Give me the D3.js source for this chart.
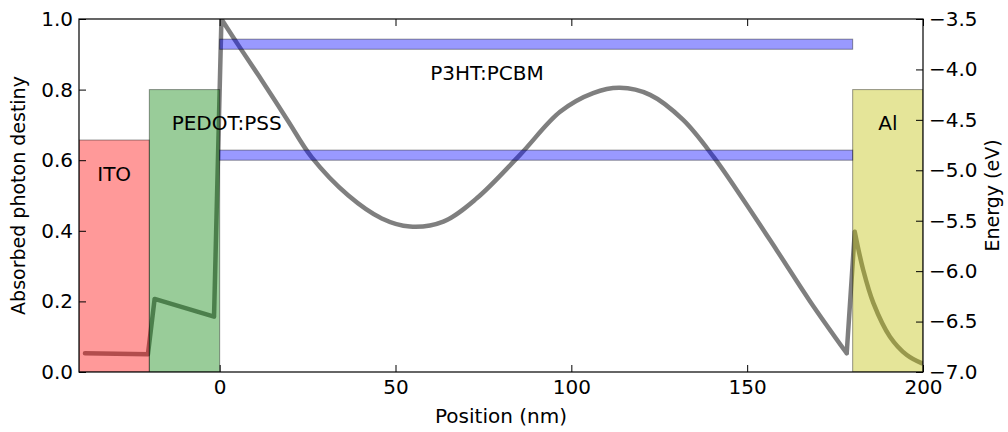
<!DOCTYPE html>
<html>
<head>
<meta charset="utf-8">
<script src="https://cdn.jsdelivr.net/npm/d3@7"></script>
<style>
  body { margin: 0; background: #fff; }
  text { font-family: "DejaVu Sans", sans-serif; fill: #000; }
  .tick line { stroke: #000; stroke-width: 1; }
  .tick text { font-size: 20px; }
</style>
</head>
<body>
<svg id="chart"></svg>
<script>
// Absorbed photon density across the device stack (position in nm)
const posX = [-38.3, -20.4, -18.5, -1.6, 0.5, 5.3, 12, 19.4, 26.2, 36.6, 46.1, 54.1,
  63.6, 73.1, 85.4, 96.8, 106.2, 113.8, 122.4, 131.8, 140.4, 148.9, 158.4, 167.9, 178.3,
  180.6, 183.0, 185.9, 190.6, 195.4, 199.6];
const density = [0.053, 0.050, 0.207, 0.157, 1.0, 0.926, 0.826, 0.712, 0.608, 0.500, 0.435, 0.412,
  0.426, 0.492, 0.615, 0.737, 0.790, 0.805, 0.785, 0.714, 0.610, 0.488, 0.345, 0.200, 0.053,
  0.397, 0.289, 0.195, 0.100, 0.048, 0.025];
// indices where the curve has a sharp corner (layer interfaces)
const corners = [0, 1, 2, 3, 4, 24, 25];

// Electrode layers: extent in nm and work function (eV)
const layerNames = ['ITO', 'PEDOT:PSS', 'Al'];
const layerStart = [-40, -20, 180];
const layerEnd = [-20, 0, 200];
const layerEnergy = [-4.7, -4.2, -4.2];
const layerColors = ['#ff0000', '#008000', '#bfbf00'];

// Active layer bands (LUMO / HOMO), eV
const activeStart = 0;
const activeEnd = 180;
const bandTop = [-3.7, -4.8];
const bandBottom = [-3.8, -4.9];

// Label anchors (nm, eV)
const labelText = ['ITO', 'PEDOT:PSS', 'P3HT:PCBM', 'Al'];
const labelX = [-30, 2, 76, 190];
const labelE = [-5.0, -4.5, -4.0, -4.5];

// Ticks
const xTicks = [0, 50, 100, 150, 200];
const leftTicks = [0, 0.2, 0.4, 0.6, 0.8, 1.0];
const rightTicks = [-3.5, -4.0, -4.5, -5.0, -5.5, -6.0, -6.5, -7.0];

const config = {
  width: 1008, height: 432,
  margin: { top: 19, right: 85, bottom: 60, left: 79 }
};
const W = config.width, H = config.height, m = config.margin;

const svg = d3.select('#chart').attr('width', W).attr('height', H);

const x = d3.scaleLinear().domain([-40, 200]).range([m.left, W - m.right]);
const yL = d3.scaleLinear().domain([0, 1]).range([H - m.bottom, m.top]);
const yR = d3.scaleLinear().domain([-7, -3.5]).range([H - m.bottom, m.top]);

svg.append('defs').append('clipPath').attr('id', 'plot-clip')
  .append('rect')
  .attr('x', m.left).attr('y', m.top)
  .attr('width', W - m.left - m.right).attr('height', H - m.top - m.bottom);

const plot = svg.append('g').attr('clip-path', 'url(#plot-clip)');

// Density curve (drawn first so the layers tint it)
// straight pieces between the corners, smooth pieces inside the layers
const pts = posX.map((d, i) => [d, density[i]]);
const straight = d3.line().x(d => x(d[0])).y(d => yL(d[1]));
const smooth = d3.line().x(d => x(d[0])).y(d => yL(d[1])).curve(d3.curveCatmullRom.alpha(0.5));
let pathD = '';
for (let i = 0; i < pts.length - 1; ) {
  if (corners.includes(i) && corners.includes(i + 1)) {
    pathD += straight(pts.slice(i, i + 2));
    i += 1;
  } else {
    let j = i + 1;
    while (j < pts.length - 1 && !corners.includes(j)) j++;
    pathD += smooth(pts.slice(i, j + 1));
    i = j;
  }
}
plot.append('path')
  .attr('d', pathD)
  .attr('fill', 'none')
  .attr('stroke', '#000')
  .attr('stroke-opacity', 0.5)
  .attr('stroke-width', 4.5)
  .attr('stroke-linejoin', 'round')
  .attr('stroke-linecap', 'round');

// Electrode boxes
plot.selectAll('.layer')
  .data(layerNames)
  .join('rect')
  .attr('class', 'layer')
  .attr('x', (d, i) => x(layerStart[i]))
  .attr('width', (d, i) => x(layerEnd[i]) - x(layerStart[i]))
  .attr('y', (d, i) => yR(layerEnergy[i]))
  .attr('height', (d, i) => yR(-7) - yR(layerEnergy[i]))
  .attr('fill', (d, i) => layerColors[i])
  .attr('fill-opacity', 0.4)
  .attr('stroke', '#000')
  .attr('stroke-opacity', 0.4)
  .attr('stroke-width', 1);

// Active layer bands
plot.selectAll('.band')
  .data(bandTop)
  .join('rect')
  .attr('class', 'band')
  .attr('x', x(activeStart))
  .attr('width', x(activeEnd) - x(activeStart))
  .attr('y', d => yR(d))
  .attr('height', (d, i) => yR(bandBottom[i]) - yR(d))
  .attr('fill', '#0000ff')
  .attr('fill-opacity', 0.4)
  .attr('stroke', '#000')
  .attr('stroke-opacity', 0.4)
  .attr('stroke-width', 1);

// Layer labels
svg.selectAll('.layer-label')
  .data(labelText)
  .join('text')
  .attr('class', 'layer-label')
  .attr('x', (d, i) => x(labelX[i]))
  .attr('y', (d, i) => yR(labelE[i]))
  .attr('dy', '0.52em')
  .attr('text-anchor', 'middle')
  .style('font-size', '20px')
  .text(d => d);

// Axes
const bottomAxis = svg.append('g').attr('transform', `translate(0,${H - m.bottom})`)
  .call(d3.axisBottom(x).tickValues(xTicks).tickSize(-7).tickPadding(8));
const topAxis = svg.append('g').attr('transform', `translate(0,${m.top})`)
  .call(d3.axisTop(x).tickValues(xTicks).tickSize(-7).tickFormat(''));
const leftAxis = svg.append('g').attr('transform', `translate(${m.left},0)`)
  .call(d3.axisLeft(yL).tickValues(leftTicks).tickSize(-7).tickPadding(6).tickFormat(d3.format('.1f')));
const rightAxis = svg.append('g').attr('transform', `translate(${W - m.right},0)`)
  .call(d3.axisRight(yR).tickValues(rightTicks).tickSize(-7).tickPadding(6).tickFormat(d3.format('.1f')));

[bottomAxis, topAxis, leftAxis, rightAxis].forEach(g => g.select('.domain').remove());
[bottomAxis, topAxis, leftAxis, rightAxis].forEach(g => g.selectAll('text').attr('font-family', null));

// Frame
svg.append('rect')
  .attr('x', m.left).attr('y', m.top)
  .attr('width', W - m.left - m.right).attr('height', H - m.top - m.bottom)
  .attr('fill', 'none')
  .attr('stroke', '#000')
  .attr('stroke-width', 1.2);

// Axis titles
svg.append('text')
  .attr('x', (m.left + W - m.right) / 2)
  .attr('y', 422.5)
  .attr('text-anchor', 'middle')
  .style('font-size', '20px')
  .text('Position (nm)');

svg.append('text')
  .attr('transform', `translate(25,${(m.top + H - m.bottom) / 2}) rotate(-90)`)
  .attr('text-anchor', 'middle')
  .style('font-size', '19px')
  .text('Absorbed photon destiny');

svg.append('text')
  .attr('transform', `translate(999,${(m.top + H - m.bottom) / 2}) rotate(-90)`)
  .attr('text-anchor', 'middle')
  .style('font-size', '19px')
  .text('Energy (eV)');
</script>
</body>
</html>
